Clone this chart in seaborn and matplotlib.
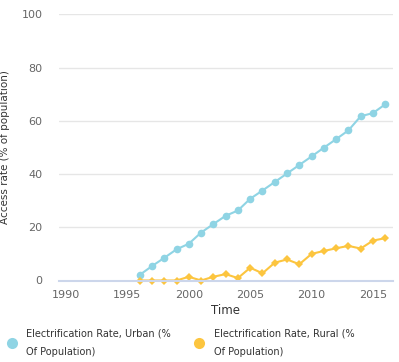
import matplotlib
matplotlib.use("Agg")
import matplotlib.pyplot as plt
import seaborn as sns
import pandas as pd
from matplotlib.lines import Line2D

years = list(range(1996, 2017))
urban = [2.1, 5.4, 8.5, 11.7, 13.8, 18.0, 21.2, 24.3, 26.3, 30.7, 33.8,
         37.0, 40.2, 43.4, 46.6, 49.9, 53.1, 56.4, 61.7, 62.9, 66.2]
rural = [0.0, 0.0, 0.0, 0.0, 1.4, 0.0, 1.4, 2.4, 0.9, 4.8, 2.7,
         6.7, 7.9, 6.1, 10.0, 11.1, 12.1, 13.0, 12.0, 15.0, 15.9]
series_names = ["Electrification Rate, Urban (%\nOf Population)",
                "Electrification Rate, Rural (%\nOf Population)"]
x_ticks = [1990, 1995, 2000, 2005, 2010, 2015]
y_ticks = [0, 20, 40, 60, 80, 100]
colors = ["#8fd4e4", "#fcc53f"]

df = pd.DataFrame({
    "Time": years * 2,
    "value": urban + rural,
    "series": [series_names[0]] * len(years) + [series_names[1]] * len(years),
})

sns.set_style("white")
plt.rcParams["font.family"] = ["DejaVu Sans"]

fig = plt.figure(figsize=(3.99, 3.62), dpi=100)
ax = fig.add_axes([59 / 399, 1 - 280.5 / 362, 334 / 399, 266.2 / 362])

sns.lineplot(data=df, x="Time", y="value", hue="series", style="series",
             palette=colors, markers=["o", "D"], dashes=False,
             markersize=5.5, markeredgewidth=0, linewidth=1.5, ax=ax,
             legend=False, clip_on=False)
for line in ax.lines:
    if line.get_marker() == "D":
        line.set_markersize(4)

ax.set_xlim(1989.43, 2016.63)
ax.set_ylim(0, 100)
ax.set_xticks(x_ticks)
ax.set_yticks(y_ticks)
ax.grid(axis="y", color="#e6e6e6", linewidth=1)
ax.grid(axis="x", visible=False)
for s in ["top", "right", "left"]:
    ax.spines[s].set_visible(False)
ax.spines["bottom"].set_color("#ccd6eb")
ax.spines["bottom"].set_linewidth(1.5)
ax.tick_params(axis="x", colors="#666666", labelsize=8, length=5, width=1,
               direction="out", pad=2)
ax.tick_params(axis="x", color="#ccd6eb")
ax.tick_params(axis="y", colors="#666666", labelsize=8, length=0, pad=12)
ax.set_xlabel("Time", fontsize=8.5, color="#333333", labelpad=3)
ax.set_ylabel("Access rate (% of population)", fontsize=7.5, color="#333333")
ax.yaxis.set_label_coords((10 - 59) / 334, 0.5)
ax.set_axisbelow(True)

handles = [Line2D([], [], marker="o", linestyle="none", markersize=8,
                  markerfacecolor=c, markeredgewidth=0) for c in colors]
leg = fig.legend(handles, series_names, loc="upper left",
                 bbox_to_anchor=(4 / 399, 1 - 327 / 362), ncol=2, frameon=False,
                 fontsize=7, handletextpad=0.9, columnspacing=2.3,
                 handlelength=1.2, borderaxespad=0, borderpad=0.2)
for t in leg.get_texts():
    t.set_color("#333333")
    t.set_linespacing(1.95)

fig.savefig("out.png", dpi=100)
